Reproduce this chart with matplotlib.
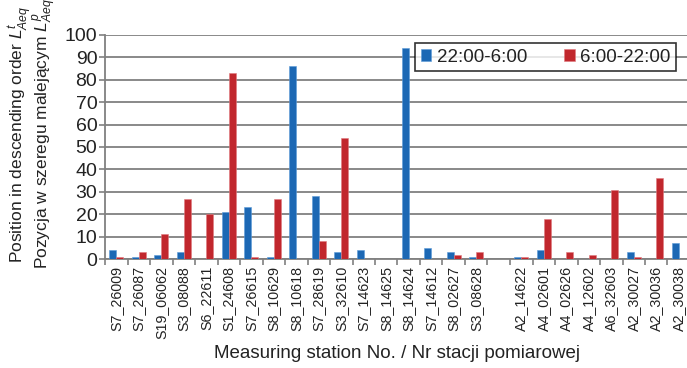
import numpy as np
import matplotlib
matplotlib.use("Agg")
import matplotlib.pyplot as plt
from matplotlib.ticker import FixedLocator

plt.rcParams['font.family'] = ['Liberation Sans', 'DejaVu Sans']
plt.rcParams['mathtext.fontset'] = 'custom'
plt.rcParams['mathtext.rm'] = 'Liberation Sans'
plt.rcParams['mathtext.it'] = 'Liberation Sans:italic'

stations = ["S7_26009", "S7_26087", "S19_06062", "S3_08088", "S6_22611", "S1_24608",
            "S7_26615", "S8_10629", "S8_10618", "S7_28619", "S3_32610", "S7_14623",
            "S8_14625", "S8_14624", "S7_14612", "S8_02627", "S3_08628", "",
            "A2_14622", "A4_02601", "A4_02626", "A4_12602", "A6_32603", "A2_30027",
            "A2_30036", "A2_30038"]
night = [4, 1, 2, 3, 0, 21, 23, 1, 86, 28, 3, 4, 0, 94, 5, 3, 1, 0,
         1, 4, 0, 0, 0, 3, 0, 7]
day = [1, 3, 11, 27, 20, 83, 1, 27, 0, 8, 54, 0, 0, 0, 0, 2, 3, 0,
       1, 18, 3, 2, 31, 1, 36, 0]
series_names = ["22:00-6:00", "6:00-22:00"]

blue = "#1c68b4"
red = "#c1272d"
grid_c = "#808080"

fig = plt.figure(figsize=(6.87, 3.68), dpi=100)
ax = fig.add_axes([105/687, 1-259/368, (690-105)/687, (259-35)/368])

x = np.arange(len(stations))
w = 0.31
ax.bar(x - w/2, night, width=w, color=blue, edgecolor="#5b9bd8", linewidth=0.4,
       label=series_names[0], zorder=3)
ax.bar(x + w/2, day, width=w, color=red, edgecolor="#e07a7e", linewidth=0.4,
       label=series_names[1], zorder=3)

ax.set_xlim(-0.5, len(stations) - 0.5)
ax.set_ylim(0, 100)
ax.set_yticks(np.arange(0, 101, 10))
ax.yaxis.grid(True, color=grid_c, linewidth=1.3, zorder=0)
ax.set_axisbelow(True)

for s in ["top", "right"]:
    ax.spines[s].set_visible(False)
for s in ["left", "bottom"]:
    ax.spines[s].set_color(grid_c)
    ax.spines[s].set_linewidth(1.3)

ax.set_xticks(x)
ax.set_xticklabels(stations, rotation=90, fontsize=10.3, color="#222222")
ax.tick_params(axis="x", which="major", length=0, pad=5)
ax.xaxis.set_minor_locator(FixedLocator(np.arange(-0.5, len(stations), 1.0)))
ax.tick_params(axis="x", which="minor", length=4, width=1.2, color=grid_c)
ax.tick_params(axis="y", length=4.5, width=1.2, color=grid_c, labelsize=14,
               labelcolor="#222222", pad=1)

ax.set_xlabel("Measuring station No. / Nr stacji pomiarowej", fontsize=13.5,
              color="#222222", labelpad=4)
fig.text(33/687, 1-134/368,
         "Position in descending order $L^{t}_{Aeq}$\n"
         "Pozycja w szeregu malejącym $L^{p}_{Aeq}$",
         rotation=90, ha="center", va="center", multialignment="center",
         fontsize=12.5, color="#222222", linespacing=0.78)

leg = ax.legend(loc="upper left", bbox_to_anchor=((415-105)/585, 1-(43-35)/224),
                ncol=2, fontsize=13.5, frameon=True, fancybox=False,
                handlelength=0.55, handleheight=0.55, handletextpad=0.3,
                columnspacing=2.0, borderpad=0.3, borderaxespad=0)
leg.get_frame().set_edgecolor("black")
leg.get_frame().set_linewidth(1.2)
for t in leg.get_texts():
    t.set_color("#222222")

fig.savefig("out.png", dpi=100)
